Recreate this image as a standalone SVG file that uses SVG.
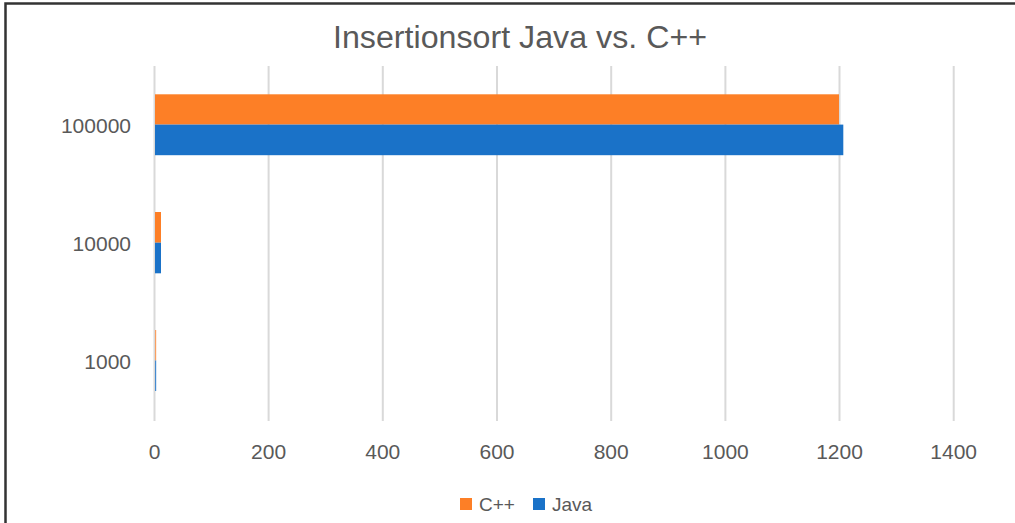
<svg xmlns="http://www.w3.org/2000/svg" width="1015" height="523" viewBox="0 0 1015 523">
<style>
.t{font-family:"Liberation Sans",Arial,sans-serif;fill:#595959}
.ax{font-size:21px}
.grid{stroke:#D9D9D9;stroke-width:2}
.cpp{fill:#FD7F26}
.java{fill:#1A72C8}
</style>
<rect x="0" y="0" width="1015" height="523" fill="#FFFFFF"/>
<path d="M5.5,523 V3.5 H1015" fill="none" stroke="#333333" stroke-width="2.5"/>
<g id="title"><text class="t" x="520" y="48" font-size="31" text-anchor="middle" textLength="374" lengthAdjust="spacingAndGlyphs">Insertionsort Java vs. C++</text></g>
<g id="grid">
<line class="grid" x1="154.5" y1="66" x2="154.5" y2="421"/>
<line class="grid" x1="268.6" y1="66" x2="268.6" y2="421"/>
<line class="grid" x1="382.8" y1="66" x2="382.8" y2="421"/>
<line class="grid" x1="497" y1="66" x2="497" y2="421"/>
<line class="grid" x1="611.2" y1="66" x2="611.2" y2="421"/>
<line class="grid" x1="725.4" y1="66" x2="725.4" y2="421"/>
<line class="grid" x1="839.5" y1="66" x2="839.5" y2="421"/>
<line class="grid" x1="953.7" y1="66" x2="953.7" y2="421"/>
</g>
<g id="bars">
<rect class="cpp" x="155" y="94.3" width="684" height="30.3"/>
<rect class="java" x="155" y="124.6" width="688.3" height="30.6"/>
<rect class="cpp" x="155" y="212" width="6" height="30.7"/>
<rect class="java" x="155" y="242.7" width="6" height="30.6"/>
<rect class="cpp" x="155" y="330" width="1.2" height="30.5" opacity="0.7"/>
<rect class="java" x="155" y="360.5" width="1.2" height="30.5" opacity="0.8"/>
</g>
<g id="ylabels" class="t ax" text-anchor="end">
<text x="131" y="132.5">100000</text>
<text x="131" y="250.5">10000</text>
<text x="131" y="368.5">1000</text>
</g>
<g id="xlabels" class="t ax" text-anchor="middle">
<text x="154.5" y="458.5">0</text>
<text x="268.6" y="458.5">200</text>
<text x="382.8" y="458.5">400</text>
<text x="497" y="458.5">600</text>
<text x="611.2" y="458.5">800</text>
<text x="725.4" y="458.5">1000</text>
<text x="839.5" y="458.5">1200</text>
<text x="953.7" y="458.5">1400</text>
</g>
<g id="legend">
<rect class="cpp" x="460" y="498" width="12" height="12"/>
<text class="t" x="479" y="511" font-size="19">C++</text>
<rect class="java" x="533" y="498" width="12" height="12"/>
<text class="t" x="552" y="511" font-size="19">Java</text>
</g>
</svg>
